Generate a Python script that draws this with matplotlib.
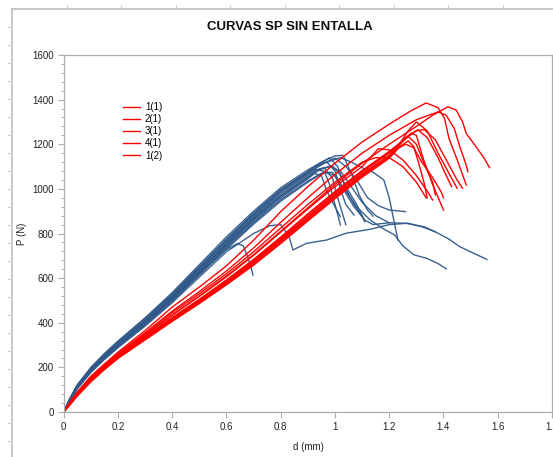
import matplotlib
matplotlib.use("Agg")
import matplotlib.pyplot as plt
from matplotlib.lines import Line2D
from matplotlib.ticker import MultipleLocator, FuncFormatter

# ---------------- data (d [mm], P [N]) ----------------
title = "CURVAS SP SIN ENTALLA"
x_label = "d (mm)"
y_label = "P (N)"
legend_labels = ["1(1)", "2(1)", "3(1)", "4(1)", "1(2)"]

blue_rise_d = [0, 0.02, 0.05, 0.1, 0.15, 0.2, 0.3, 0.4, 0.5, 0.6, 0.7, 0.8, 0.9]
red_rise_d = [0, 0.02, 0.05, 0.1, 0.15, 0.2, 0.3, 0.4, 0.5, 0.6, 0.7, 0.8, 0.9, 1.0, 1.1, 1.2]

# blue curves: rising P values at blue_rise_d, then (d, P) tail points
b01_rise = [0, 55, 122, 200, 262, 318, 422, 535, 660, 785, 900, 1005, 1085]
b01_tail = [(0.95, 1120), (1.0, 1148), (1.03, 1150), (1.06, 1070), (1.09, 970), (1.12, 905), (1.14, 878)]
b02_rise = [0, 52, 118, 194, 255, 310, 412, 525, 648, 772, 888, 995, 1075]
b02_tail = [(0.95, 1118), (0.98, 1140), (1.01, 1100), (1.04, 1000), (1.07, 930), (1.1, 880), (1.11, 855)]
b03_rise = [0, 50, 116, 192, 252, 307, 408, 518, 640, 762, 878, 985, 1068]
b03_tail = [(0.95, 1110), (1.0, 1138), (1.04, 1100), (1.08, 1040), (1.12, 960), (1.16, 925), (1.2, 905), (1.26, 898)]
b04_rise = [0, 48, 112, 186, 246, 300, 400, 508, 628, 748, 862, 968, 1050]
b04_tail = [(0.93, 1085), (0.96, 1095), (0.99, 1050), (1.01, 960), (1.03, 880), (1.04, 840)]
b05_rise = [0, 47, 110, 184, 244, 298, 397, 505, 623, 742, 855, 960, 1045]
b05_tail = [(0.94, 1085), (0.98, 1100), (1.02, 1080), (1.06, 1010), (1.1, 940), (1.15, 880), (1.2, 848)]
b06_rise = [0, 46, 108, 182, 240, 295, 393, 500, 618, 735, 848, 952, 1035]
b06_tail = [(0.95, 1070), (0.99, 1075), (1.03, 1000), (1.07, 920), (1.11, 860), (1.14, 840), (1.2, 848),
            (1.26, 846), (1.33, 830), (1.38, 801), (1.42, 775), (1.46, 741), (1.51, 712), (1.56, 684)]
b07_rise = [0, 45, 106, 180, 238, 292, 390, 497, 614, 730, 842, 945, 1030]
b07_tail = [(0.96, 1075), (1.0, 1060), (1.04, 990), (1.08, 920), (1.13, 860), (1.18, 820), (1.22, 793),
            (1.25, 745), (1.29, 705), (1.34, 688), (1.38, 665), (1.41, 642)]
b08_rise = [0, 51, 117, 193, 254, 309, 410, 522, 645, 768, 884, 990, 1072]
b08_tail = [(0.96, 1115), (1.02, 1140), (1.06, 1120), (1.1, 1095), (1.14, 1075), (1.18, 1040),
            (1.2, 960), (1.215, 870), (1.232, 771)]
b09_rise = [0, 44, 104, 177, 235, 288, 385, 490, 605, 718, 800]
b09_tail = [(0.76, 835), (0.80, 840), (0.83, 790), (0.845, 726), (0.895, 756), (0.97, 771), (1.04, 801),
            (1.13, 819), (1.2, 840), (1.27, 846), (1.32, 830), (1.37, 808)]
b10_rise = [0, 47, 110, 184, 243, 297, 396, 503, 620, 728]
b10_tail = [(0.64, 755), (0.662, 745), (0.68, 690), (0.698, 614)]
b11_rise = [0, 53, 120, 196, 258, 314, 418, 530, 652, 775, 892, 997, 1078]
b11_tail = [(0.94, 1110), (0.97, 1120), (1.0, 1080), (1.02, 1000), (1.04, 930), (1.07, 883)]
b12_rise = [0, 49, 114, 189, 248, 303, 403, 512, 632, 752, 866, 970, 1055]
b12_tail = [(0.95, 1090), (0.99, 1105), (1.02, 1060), (1.05, 990), (1.08, 930), (1.11, 853)]
b13_rise = [0, 50, 115, 190, 250, 305, 405, 514, 634, 756, 872, 978, 1062]
b13_tail = [(0.93, 1085), (0.96, 1080), (0.98, 1020), (1.0, 930), (1.02, 838)]
b14_rise = [0, 48, 113, 188, 247, 302, 402, 510, 630, 750, 865, 968, 1050]
b14_tail = [(0.92, 1070), (0.95, 1060), (0.97, 990), (1.0, 920), (1.02, 875)]

# red curves: rising P values at red_rise_d, then (d, P) tail points
r01_rise = [0, 38, 90, 160, 215, 268, 365, 470, 560, 655, 770, 898, 1010, 1115, 1210, 1290]
r01_tail = [(1.28, 1350), (1.336, 1385), (1.38, 1364), (1.404, 1316), (1.42, 1227), (1.453, 1122), (1.484, 1017)]
r02_rise = [0, 34, 82, 150, 205, 255, 345, 435, 520, 610, 705, 810, 915, 1020, 1115, 1200]
r02_tail = [(1.3, 1280), (1.36, 1330), (1.417, 1368), (1.447, 1353), (1.47, 1301), (1.484, 1248),
            (1.52, 1189), (1.55, 1137), (1.57, 1095)]
r03_rise = [0, 36, 86, 155, 210, 262, 355, 452, 540, 632, 735, 850, 960, 1065, 1160, 1240]
r03_tail = [(1.3, 1310), (1.38, 1345), (1.41, 1330), (1.44, 1270), (1.46, 1190), (1.48, 1120), (1.49, 1077)]
r04_rise = [0, 32, 78, 144, 199, 249, 335, 421, 502, 588, 680, 780, 885, 985, 1080, 1168]
r04_tail = [(1.25, 1215), (1.30, 1262), (1.33, 1265), (1.37, 1220), (1.41, 1130), (1.45, 1040), (1.47, 1003)]
r05_rise = [0, 31, 76, 142, 197, 247, 332, 418, 498, 584, 675, 774, 877, 978, 1073, 1160]
r05_tail = [(1.26, 1230), (1.306, 1264), (1.34, 1230), (1.38, 1140), (1.41, 1060), (1.43, 1010)]
r06_rise = [0, 30, 75, 140, 195, 245, 330, 415, 495, 580, 670, 768, 870, 970, 1065, 1150]
r06_tail = [(1.24, 1200), (1.28, 1250), (1.30, 1240), (1.325, 1137), (1.36, 1020), (1.40, 905)]
r07_rise = [0, 29, 73, 137, 192, 242, 326, 410, 490, 574, 663, 760, 862, 962, 1058, 1143]
r07_tail = [(1.25, 1215), (1.27, 1235), (1.30, 1200), (1.33, 1110), (1.36, 1030), (1.37, 973)]
r08_rise = [0, 28, 72, 135, 190, 240, 323, 406, 486, 570, 658, 755, 856, 956, 1052, 1137]
r08_tail = [(1.24, 1190), (1.27, 1215), (1.29, 1190), (1.31, 1110), (1.33, 1020), (1.34, 959)]
r09_rise = [0, 33, 80, 147, 202, 252, 338, 424, 505, 592, 684, 784, 888, 988, 1082, 1165]
r09_tail = [(1.24, 1205), (1.27, 1260), (1.30, 1300), (1.34, 1260), (1.38, 1160), (1.42, 1070), (1.45, 1003)]
r10_rise = [0, 35, 84, 152, 207, 258, 350, 445, 530, 620, 718, 825, 930, 1030, 1120]
r10_tail = [(1.15, 1140), (1.2, 1140), (1.25, 1100), (1.3, 1030), (1.336, 960)]
r11_rise = [0, 33, 81, 148, 203, 253, 342, 434, 518, 606, 702, 806, 910, 1010, 1100]
r11_tail = [(1.16, 1180), (1.2, 1175), (1.25, 1130), (1.3, 1060), (1.34, 990), (1.36, 950)]
r12_rise = [0, 30, 74, 139, 194, 244, 329, 414, 494, 579, 669, 767, 869, 969, 1064, 1149]
r12_tail = [(1.23, 1180), (1.26, 1200), (1.29, 1185), (1.32, 1120), (1.36, 1050), (1.39, 990), (1.40, 960)]

blue_curves = [(b01_rise, b01_tail), (b02_rise, b02_tail), (b03_rise, b03_tail), (b04_rise, b04_tail),
               (b05_rise, b05_tail), (b06_rise, b06_tail), (b07_rise, b07_tail), (b08_rise, b08_tail),
               (b09_rise, b09_tail), (b10_rise, b10_tail), (b11_rise, b11_tail), (b12_rise, b12_tail),
               (b13_rise, b13_tail), (b14_rise, b14_tail)]
red_curves = [(r01_rise, r01_tail), (r02_rise, r02_tail), (r03_rise, r03_tail), (r04_rise, r04_tail),
              (r05_rise, r05_tail), (r06_rise, r06_tail), (r07_rise, r07_tail), (r08_rise, r08_tail),
              (r09_rise, r09_tail), (r10_rise, r10_tail), (r11_rise, r11_tail), (r12_rise, r12_tail)]

# ---------------- styling ----------------
BLUE = "#30598A"
RED = "#FF0000"
GRAY = "#ADADAD"
W, H = 553, 457

plt.rcParams['font.family'] = ['Liberation Sans', 'DejaVu Sans']

fig = plt.figure(figsize=(W / 100, H / 100), dpi=100)
x0, x1, y_top, y_bot = 63.7, 552.0, 55.0, 412.0
ax = fig.add_axes([x0 / W, 1 - y_bot / H, (x1 - x0) / W, (y_bot - y_top) / H])


def build(rise_d, rise_p, tail):
    d = list(rise_d[:len(rise_p)]) + [t[0] for t in tail]
    p = list(rise_p) + [t[1] for t in tail]
    return d, p


for rise, tail in blue_curves:
    d, p = build(blue_rise_d, rise, tail)
    ax.plot(d, p, color=BLUE, lw=1.0, alpha=0.95, solid_joinstyle='round')

red_handles = []
for i, (rise, tail) in enumerate(red_curves):
    d, p = build(red_rise_d, rise, tail)
    ln, = ax.plot(d, p, color=RED, lw=1.0, solid_joinstyle='round')
    if i < len(legend_labels):
        ln.set_label(legend_labels[i])
        red_handles.append(ln)

ax.set_xlim(0, 1.8)
ax.set_ylim(0, 1600)
ax.xaxis.set_major_locator(MultipleLocator(0.2))
ax.yaxis.set_major_locator(MultipleLocator(200))
ax.yaxis.set_minor_locator(MultipleLocator(40))
ax.xaxis.set_major_formatter(FuncFormatter(lambda v, pos: f"{v:g}"))
ax.yaxis.set_major_formatter(FuncFormatter(lambda v, pos: f"{v:g}"))
for s in ax.spines.values():
    s.set_color(GRAY)
    s.set_linewidth(0.9)
ax.tick_params(axis='both', which='major', direction='out', length=4, width=0.8, color=GRAY,
               labelsize=7, labelcolor='#222222', pad=3)
ax.tick_params(axis='y', which='minor', direction='out', length=2.5, width=0.7, color=GRAY)

fig.text(290 / W, 1 - 27 / H, title, ha='center', va='center', fontsize=9.5, fontweight='bold', color='#111111')
fig.text(308 / W, 1 - 447 / H, x_label, ha='center', va='center', fontsize=7, color='#222222')
fig.text(22 / W, 1 - 234 / H, y_label, ha='center', va='center', rotation=90, fontsize=7, color='#222222')

fig.legend(handles=red_handles, loc='upper left', bbox_to_anchor=(123 / W, 1 - 102 / H),
           bbox_transform=fig.transFigure, frameon=False, fontsize=7, handlelength=1.75,
           handletextpad=0.5, labelspacing=0.22, borderpad=0, borderaxespad=0)

# chart-area border and sheet marks
fig.add_artist(Line2D([12 / W, 12 / W], [0, 1 - 9 / H], transform=fig.transFigure, color='#BDBDBD', lw=1.2))
fig.add_artist(Line2D([12 / W, 1], [1 - 9 / H, 1 - 9 / H], transform=fig.transFigure, color='#BDBDBD', lw=1.2))
yy = 9 + 18
while yy < H:
    fig.add_artist(Line2D([8 / W, 12 / W], [1 - yy / H, 1 - yy / H], transform=fig.transFigure, color='#D0D0D0', lw=0.8))
    yy += 18
xx = 12 + 54.5
while xx < W:
    fig.add_artist(Line2D([xx / W, xx / W], [1 - 5 / H, 1 - 9 / H], transform=fig.transFigure, color='#D0D0D0', lw=0.8))
    xx += 54.5

fig.savefig("out.png", dpi=100)
